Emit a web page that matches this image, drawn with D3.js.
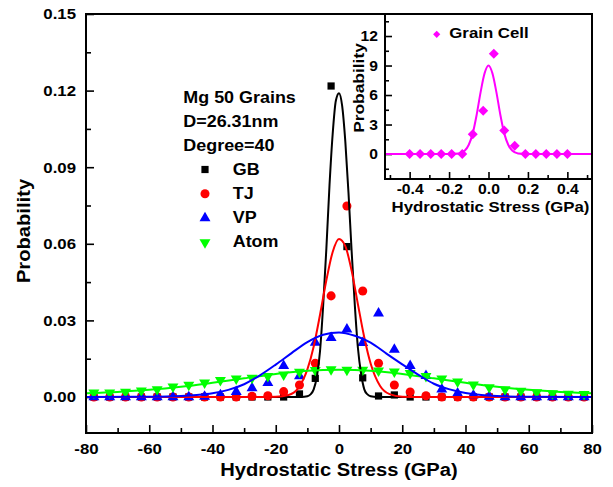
<!DOCTYPE html>
<html>
<head>
<meta charset="utf-8">
<script src="https://cdn.jsdelivr.net/npm/d3@7"></script>
<style>
  body { margin: 0; background: #fff; }
  text { font-family: "Liberation Sans", Arial, sans-serif; font-weight: bold; fill: #000; }
</style>
</head>
<body>
<script>
// ---- data ----
// hydrostatic stress bins (GPa), shared by the four main series
const stressGPa = [-77.5, -72.5, -67.5, -62.5, -57.5, -52.5, -47.5, -42.5, -37.5, -32.5, -27.5, -22.5,
                   -17.5, -12.5, -7.5, -2.5, 2.5, 7.5, 12.5, 17.5, 22.5, 27.5, 32.5, 37.5,
                   42.5, 47.5, 52.5, 57.5, 62.5, 67.5, 72.5, 77.5];
const gbProb   = [0, 0, 0, 0, 0, 0, 0, 0, 0, 0, 0, 0,
                  0, 0.0012, 0.0073, 0.1218, 0.0589, 0.0075, 0.0004, 0.0008, 0, 0, 0, 0,
                  0, 0, 0, 0, 0, 0, 0, 0];
const tjProb   = [0, 0, 0, 0, 0, 0, 0, 0, 0, 0, 0.0003, 0.0005,
                  0.0021, 0.0047, 0.0132, 0.0396, 0.0748, 0.0415, 0.0132, 0.0047, 0.0020, 0.0005, 0, 0,
                  0, 0, 0, 0, 0, 0, 0, 0];
const vpProb   = [0, 0, 0, 0, 0, 0, 0, 0.0002, 0.0008, 0.0020, 0.0035, 0.0055,
                  0.0122, 0.0082, 0.0213, 0.0232, 0.0265, 0.0212, 0.0328, 0.0186, 0.0122, 0.0083, 0.0030, 0.0014,
                  0.0007, 0.0002, 0, 0, 0, 0, 0, 0];
const atomProb = [0.0017, 0.0017, 0.0020, 0.0025, 0.0030, 0.0040, 0.0047, 0.0056, 0.0066, 0.0072, 0.0075, 0.0082,
                  0.0087, 0.0098, 0.0105, 0.0108, 0.0106, 0.0106, 0.0103, 0.0099, 0.0093, 0.0082, 0.0072, 0.0060,
                  0.0048, 0.0038, 0.0030, 0.0024, 0.0018, 0.0014, 0.0012, 0.0011];

// fitted curves as [stress, probability]
const gbFit = [[-80, 0], [-12, 0], [-10, 0.0003], [-9, 0.001], [-8, 0.003], [-7, 0.008], [-6, 0.018],
               [-5, 0.036], [-4, 0.058], [-3, 0.083], [-2, 0.103], [-1, 0.116], [0, 0.119], [1, 0.114],
               [2, 0.100], [3, 0.080], [4, 0.057], [5, 0.036], [6, 0.019], [7, 0.009], [8, 0.003],
               [9, 0.001], [10, 0.0003], [12, 0], [80, 0]];
const tjFit = [[-80, 0], [-25, 0], [-20, 0.0001], [-16, 0.0008], [-13, 0.0033], [-10, 0.0108], [-8, 0.0198],
               [-6, 0.0322], [-4, 0.0457], [-2, 0.0568], [0, 0.0619], [2, 0.0591], [4, 0.0494], [6, 0.0362],
               [8, 0.0233], [10, 0.0131], [13, 0.0043], [16, 0.0011], [20, 0.0001], [25, 0], [80, 0]];
const vpFit = [[-80, 0], [-60, 0.0001], [-50, 0.0004], [-45, 0.0008], [-40, 0.0015], [-35, 0.0028],
               [-30, 0.0050], [-25, 0.0085], [-20, 0.0127], [-15, 0.0172], [-10, 0.0215], [-5, 0.0244],
               [0, 0.0253], [5, 0.0240], [10, 0.0213], [15, 0.0170], [20, 0.0128], [25, 0.0088],
               [30, 0.0052], [35, 0.0030], [40, 0.0016], [45, 0.0008], [50, 0.0004], [60, 0.0001], [80, 0]];
const atomFit = [[-80, 0.0015], [-70, 0.0020], [-60, 0.0028], [-50, 0.0040], [-40, 0.0056], [-30, 0.0073],
                 [-20, 0.0090], [-10, 0.0103], [0, 0.0107], [10, 0.0103], [20, 0.0090], [30, 0.0073],
                 [40, 0.0056], [50, 0.0040], [60, 0.0028], [70, 0.0020], [80, 0.0015]];

// inset: grain cell
const cellStress = [-0.4, -0.347, -0.293, -0.24, -0.187, -0.133, -0.08, -0.027,
                    0.027, 0.08, 0.133, 0.187, 0.24, 0.293, 0.347, 0.4];
const cellProb   = [0, 0, 0, 0, 0, 0, 2.0, 4.4, 10.2, 2.4, 0.85, 0, 0, 0, 0, 0];
const cellFit = [[-0.525, 0], [-0.2, 0], [-0.15, 0.05], [-0.12, 0.35], [-0.1, 0.94], [-0.08, 2.1],
                 [-0.06, 4.0], [-0.04, 6.3], [-0.02, 8.2], [0, 9.0], [0.02, 8.2], [0.04, 6.3],
                 [0.06, 4.0], [0.08, 2.1], [0.1, 0.94], [0.12, 0.35], [0.15, 0.05], [0.2, 0], [0.525, 0]];

// ticks
const xTicks = [-80, -60, -40, -20, 0, 20, 40, 60, 80];
const xMinor = [-70, -50, -30, -10, 10, 30, 50, 70];
const yTicks = [0, 0.03, 0.06, 0.09, 0.12, 0.15];
const yMinor = [0.015, 0.045, 0.075, 0.105, 0.135];
const insetXTicks = [-0.4, -0.2, 0, 0.2, 0.4];
const insetXMinor = [-0.5, -0.3, -0.1, 0.1, 0.3, 0.5];
const insetYTicks = [0, 3, 6, 9, 12];
const insetYMinor = [-1.5, 1.5, 4.5, 7.5, 10.5, 13.5];

const infoLines = ["Mg 50 Grains", "D=26.31nm", "Degree=40"];
const seriesNames = ["GB", "TJ", "VP", "Atom"];

// ---- layout ----
var margin = {top: 14, right: 21, bottom: 54, left: 86},
    width = 613 - margin.left - margin.right,
    height = 487 - margin.top - margin.bottom;

var svg = d3.select("body").append("svg")
    .attr("width", 613)
    .attr("height", 487);

var g = svg.append("g")
    .attr("transform", "translate(" + margin.left + "," + margin.top + ")");

const x = d3.scaleLinear().domain([-80, 80]).range([0, width]);
const y = d3.scaleLinear().domain([-0.0141, 0.15]).range([height, 0]);

// axes, ticks pointing inwards
function styleAxis(sel, size) {
  sel.select(".domain").remove();
  sel.selectAll("line").attr("stroke", "#000").attr("stroke-width", 1.6);
  sel.selectAll("text").attr("font-size", size).attr("fill", "#000")
     .style("font-family", '"Liberation Sans", Arial, sans-serif').style("font-weight", "bold");
}

g.append("g").attr("transform", "translate(0," + height + ")")
  .call(d3.axisBottom(x).tickValues(xTicks).tickSize(-8).tickPadding(10).tickFormat(d => String(d)))
  .call(s => styleAxis(s, 15));
g.append("g").attr("transform", "translate(0," + height + ")")
  .call(d3.axisBottom(x).tickValues(xMinor).tickSize(-5).tickFormat(""))
  .call(s => styleAxis(s, 15));
g.append("g")
  .call(d3.axisLeft(y).tickValues(yTicks).tickSize(-8).tickPadding(10).tickFormat(d3.format(".2f")))
  .call(s => styleAxis(s, 15));
g.append("g")
  .call(d3.axisLeft(y).tickValues(yMinor).tickSize(-5).tickFormat(""))
  .call(s => styleAxis(s, 15));

// scatter points
const mainSeries = [
  {name: "GB",   vals: gbProb,   fit: gbFit,   color: "#000000", sym: d3.symbolSquare,   size: 52, rot: 0},
  {name: "TJ",   vals: tjProb,   fit: tjFit,   color: "#ff0000", sym: d3.symbolCircle,   size: 64, rot: 0},
  {name: "VP",   vals: vpProb,   fit: vpFit,   color: "#0000ff", sym: d3.symbolTriangle, size: 52, rot: 0},
  {name: "Atom", vals: atomProb, fit: atomFit, color: "#00ff00", sym: d3.symbolTriangle, size: 52, rot: 180}
];

mainSeries.forEach(function(s) {
  g.append("g").selectAll("path")
    .data(stressGPa.map((v, i) => [v, s.vals[i]]))
    .join("path")
    .attr("d", d3.symbol().type(s.sym).size(s.size))
    .attr("fill", s.color)
    .attr("transform", d => "translate(" + x(d[0]) + "," + y(d[1]) + ") rotate(" + s.rot + ")");
});

// fitted lines
const fitLine = d3.line()
    .x(d => x(d[0]))
    .y(d => y(d[1]))
    .curve(d3.curveMonotoneX);
[mainSeries[0], mainSeries[1], mainSeries[3], mainSeries[2]].forEach(function(s) {
  g.append("path")
    .datum(s.fit)
    .attr("fill", "none")
    .attr("stroke", s.color)
    .attr("stroke-width", 2)
    .attr("d", fitLine);
});

// frame
g.append("rect").attr("width", width).attr("height", height)
  .attr("fill", "none").attr("stroke", "#000").attr("stroke-width", 2);

// axis titles
svg.append("text")
  .attr("x", margin.left + x(0)).attr("y", 476)
  .attr("text-anchor", "middle").attr("font-size", 18)
  .text("Hydrostatic Stress (GPa)");
svg.append("text")
  .attr("transform", "translate(29.5,231) rotate(-90)")
  .attr("text-anchor", "middle").attr("font-size", 18)
  .text("Probability");

// annotation + legend
infoLines.forEach(function(t, i) {
  svg.append("text").attr("x", 183.3).attr("y", 102.5 + i * 24).attr("font-size", 16).text(t);
});
mainSeries.forEach(function(s, i) {
  svg.append("path")
    .attr("d", d3.symbol().type(s.sym).size(s.size))
    .attr("fill", s.color)
    .attr("transform", "translate(205," + (169.5 + i * 24.3) + ") rotate(" + s.rot + ")");
  svg.append("text").attr("x", 232.7).attr("y", 174.5 + i * 24.3).attr("font-size", 16).text(seriesNames[i]);
});

// ---- inset ----
const inset = {left: 385, top: 14, width: 207, height: 165};
var ig = svg.append("g").attr("transform", "translate(" + inset.left + "," + inset.top + ")");
const ix = d3.scaleLinear().domain([-0.525, 0.525]).range([0, inset.width]);
const iy = d3.scaleLinear().domain([-2.54, 14.24]).range([inset.height, 0]);

ig.append("rect").attr("width", inset.width).attr("height", inset.height).attr("fill", "#fff");

ig.append("g").attr("transform", "translate(0," + inset.height + ")")
  .call(d3.axisBottom(ix).tickValues(insetXTicks).tickSize(-7).tickPadding(5).tickFormat(d => d.toFixed(1)))
  .call(s => styleAxis(s, 14));
ig.append("g").attr("transform", "translate(0," + inset.height + ")")
  .call(d3.axisBottom(ix).tickValues(insetXMinor).tickSize(-4).tickFormat(""))
  .call(s => styleAxis(s, 14));
ig.append("g")
  .call(d3.axisLeft(iy).tickValues(insetYTicks).tickSize(-7).tickPadding(7).tickFormat(d => String(d)))
  .call(s => styleAxis(s, 14));
ig.append("g")
  .call(d3.axisLeft(iy).tickValues(insetYMinor).tickSize(-4).tickFormat(""))
  .call(s => styleAxis(s, 14));

ig.append("path")
  .datum(cellFit)
  .attr("fill", "none")
  .attr("stroke", "#ff00ff")
  .attr("stroke-width", 2)
  .attr("d", d3.line().x(d => ix(d[0])).y(d => iy(d[1])).curve(d3.curveMonotoneX));

ig.append("g").selectAll("path")
  .data(cellStress.map((v, i) => [v, cellProb[i]]))
  .join("path")
  .attr("d", d3.symbol().type(d3.symbolSquare).size(50))
  .attr("fill", "#ff00ff")
  .attr("transform", d => "translate(" + ix(d[0]) + "," + iy(d[1]) + ") rotate(45)");

ig.append("rect").attr("width", inset.width).attr("height", inset.height)
  .attr("fill", "none").attr("stroke", "#000").attr("stroke-width", 2);

// inset legend and titles
svg.append("path")
  .attr("d", d3.symbol().type(d3.symbolSquare).size(26))
  .attr("fill", "#ff00ff")
  .attr("transform", "translate(436.7,34.3) rotate(45)");
svg.append("text").attr("x", 449.3).attr("y", 38).attr("font-size", 15).text("Grain Cell");
svg.append("text")
  .attr("x", inset.left + ix(0) + 2).attr("y", 212)
  .attr("text-anchor", "middle").attr("font-size", 15)
  .text("Hydrostatic Stress (GPa)");
svg.append("text")
  .attr("transform", "translate(364,88) rotate(-90)")
  .attr("text-anchor", "middle").attr("font-size", 15.5)
  .text("Probability");

// the figure's lettering is a little wider than the font; stretch it
svg.selectAll("text").each(function() {
  const w = this.getComputedTextLength();
  if (w > 0) {
    this.setAttribute("textLength", (w * 1.12).toFixed(1));
    this.setAttribute("lengthAdjust", "spacingAndGlyphs");
  }
});
</script>
</body>
</html>
